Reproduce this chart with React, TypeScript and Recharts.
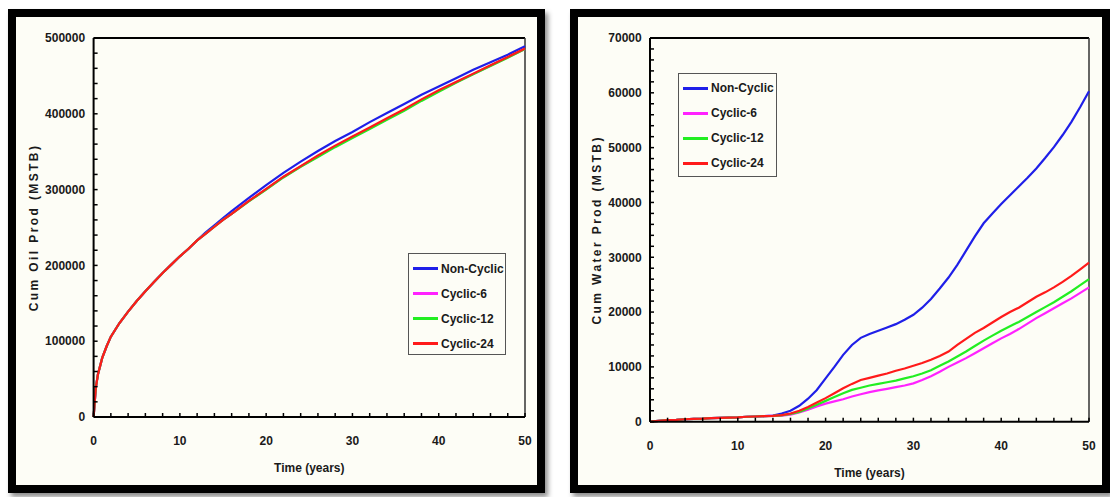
import React from 'react';
import { LineChart, Line, XAxis, YAxis, Legend, ReferenceLine } from 'recharts';

// ---------- Data: Cumulative oil production ----------
const oilTime = [0, 0.25, 0.5, 1, 1.5, 2, 3, 4, 5, 6, 7, 8, 9, 10, 11, 12, 13, 14, 15, 16, 18, 20, 22, 24, 26, 28, 30, 32, 34, 36, 38, 40, 42, 44, 46, 48, 50];
const oilNonCyclic = [0, 38000, 56000, 78000, 93000, 106000, 124000, 139000, 153000, 166000, 178000, 190000, 201000, 212000, 222000, 233000, 243500, 253000, 262500, 271500, 289000, 306000, 322000, 337000, 351000, 364000, 376000, 389000, 401000, 413000, 425000, 436000, 447000, 458000, 468000, 478000, 489000];
const oilCyclic6 = [0, 38000, 56000, 78000, 93000, 106000, 124000, 139000, 153000, 166000, 178000, 190000, 201000, 212000, 222000, 233000, 242000, 251000, 260000, 268000, 285000, 300500, 316500, 330500, 344000, 357000, 369000, 381000, 393000, 405000, 418000, 430000, 441500, 452500, 463500, 474500, 485500];
const oilCyclic12 = [0, 38000, 56000, 78000, 93000, 106000, 124000, 139000, 153000, 166000, 178000, 190000, 201000, 212000, 222000, 233000, 242000, 251000, 260000, 268000, 284500, 300000, 316000, 330000, 343000, 356000, 368000, 380000, 392000, 404000, 417000, 429000, 441000, 452000, 463000, 474000, 485500];
const oilCyclic24 = [0, 38000, 56000, 78000, 93000, 106000, 124000, 139000, 153000, 166000, 178000, 190000, 201000, 212000, 222000, 233000, 242000, 251000, 260000, 268000, 285000, 301000, 317000, 331000, 345000, 358000, 370000, 382000, 394000, 406000, 419000, 431000, 442000, 453000, 464000, 475000, 486000];

// ---------- Data: Cumulative water production ----------
const waterTime = [0, 1, 2, 3, 4, 5, 6, 7, 8, 9, 10, 11, 12, 13, 14, 15, 16, 17, 18, 19, 20, 21, 22, 23, 24, 25, 26, 27, 28, 29, 30, 31, 32, 33, 34, 35, 36, 37, 38, 39, 40, 41, 42, 43, 44, 45, 46, 47, 48, 49, 50];
const waterNonCyclic = [0, 150, 300, 350, 450, 500, 550, 650, 700, 750, 800, 900, 950, 1000, 1100, 1500, 2000, 2900, 4200, 5800, 7900, 10000, 12200, 14000, 15300, 16000, 16600, 17200, 17800, 18600, 19500, 20800, 22400, 24300, 26300, 28600, 31200, 33800, 36200, 38000, 39700, 41300, 42900, 44500, 46200, 48100, 50100, 52300, 54700, 57400, 60300];
const waterCyclic6 = [0, 150, 300, 350, 450, 500, 550, 650, 700, 750, 800, 900, 950, 1000, 1050, 1100, 1300, 1700, 2200, 2800, 3300, 3700, 4100, 4600, 5000, 5400, 5700, 6000, 6300, 6600, 7000, 7600, 8300, 9100, 10000, 10800, 11600, 12500, 13400, 14300, 15200, 16000, 16900, 17900, 18900, 19800, 20700, 21600, 22500, 23500, 24500];
const waterCyclic12 = [0, 150, 300, 350, 450, 500, 550, 650, 700, 750, 800, 900, 950, 1000, 1050, 1150, 1400, 1800, 2400, 3100, 3800, 4500, 5200, 5800, 6200, 6600, 6900, 7200, 7500, 7900, 8300, 8800, 9400, 10200, 11000, 11900, 12800, 13800, 14800, 15700, 16600, 17400, 18200, 19100, 20000, 20900, 21800, 22800, 23800, 24900, 26000];
const waterCyclic24 = [0, 150, 300, 350, 450, 500, 550, 650, 700, 750, 800, 900, 950, 1000, 1050, 1200, 1500, 2000, 2700, 3500, 4300, 5200, 6100, 6900, 7600, 8000, 8400, 8800, 9300, 9700, 10200, 10700, 11300, 12000, 12800, 14000, 15100, 16200, 17100, 18100, 19100, 20000, 20800, 21800, 22800, 23600, 24500, 25500, 26600, 27800, 29000];

// ---------- Tick values ----------
const timeTicks = [0, 2, 4, 6, 8, 10, 12, 14, 16, 18, 20, 22, 24, 26, 28, 30, 32, 34, 36, 38, 40, 42, 44, 46, 48, 50];
const oilTicks = [0, 20000, 40000, 60000, 80000, 100000, 120000, 140000, 160000, 180000, 200000, 220000, 240000, 260000, 280000, 300000, 320000, 340000, 360000, 380000, 400000, 420000, 440000, 460000, 480000, 500000];
const waterTicks = [0, 2000, 4000, 6000, 8000, 10000, 12000, 14000, 16000, 18000, 20000, 22000, 24000, 26000, 28000, 30000, 32000, 34000, 36000, 38000, 40000, 42000, 44000, 46000, 48000, 50000, 52000, 54000, 56000, 58000, 60000, 62000, 64000, 66000, 68000, 70000];

const seriesNames = ['Non-Cyclic', 'Cyclic-6', 'Cyclic-12', 'Cyclic-24'];
const seriesColors = ['#1f1fe8', '#ff22ff', '#22ee22', '#ff1a1a'];

const oilRows = oilTime.map((t, i) => ({
  t,
  nc: oilNonCyclic[i],
  c6: oilCyclic6[i],
  c12: oilCyclic12[i],
  c24: oilCyclic24[i],
}));
const waterRows = waterTime.map((t, i) => ({
  t,
  nc: waterNonCyclic[i],
  c6: waterCyclic6[i],
  c12: waterCyclic12[i],
  c24: waterCyclic24[i],
}));

const FONT = '"Liberation Sans", Arial, Helvetica, sans-serif';
const CREAM = '#fdfdf6';
const tickStyle = { fontFamily: FONT, fontSize: 12, fontWeight: 700, fill: '#1a1a1a' };

const LegendBox = (props: any) => {
  const payload = [...(props.payload || [])].sort(
    (a: any, b: any) => seriesNames.indexOf(a.value) - seriesNames.indexOf(b.value)
  );
  return (
    <div
      style={{
        border: '1.5px solid #555',
        background: CREAM,
        boxSizing: 'border-box',
        width: '100%',
        height: '100%',
        padding: '2px 0 0 4px',
        fontFamily: FONT,
        fontWeight: 700,
        fontSize: 12,
        color: '#1a1a1a',
      }}
    >
      {payload.map((p: any) => (
        <div key={p.value} style={{ display: 'flex', alignItems: 'center', height: 25 }}>
          <span style={{ display: 'inline-block', width: 25, height: 3, background: p.color, marginRight: 3 }} />
          <span>{p.value}</span>
        </div>
      ))}
    </div>
  );
};

const yTitle = (text: string, dxFromViewBox: number) => (props: any) => {
  const vb = props.viewBox || { x: 0, y: 0, width: 0, height: 0 };
  const cx = vb.x + dxFromViewBox;
  const cy = vb.y + vb.height / 2;
  return (
    <text
      x={cx}
      y={cy}
      transform={`rotate(-90 ${cx} ${cy})`}
      textAnchor="middle"
      dominantBaseline="central"
      style={{ fontFamily: FONT, fontSize: 12, fontWeight: 700, fill: '#1a1a1a', letterSpacing: 2.4 }}
    >
      {text}
    </text>
  );
};

const xTitle = (text: string, dy: number) => (props: any) => {
  const vb = props.viewBox || { x: 0, y: 0, width: 0, height: 0 };
  const cx = vb.x + vb.width / 2;
  const cy = vb.y + dy;
  return (
    <text
      x={cx}
      y={cy}
      textAnchor="middle"
      dominantBaseline="central"
      style={{ fontFamily: FONT, fontSize: 12, fontWeight: 700, fill: '#1a1a1a' }}
    >
      {text}
    </text>
  );
};

const panelStyle = (left: number, width: number): React.CSSProperties => ({
  position: 'absolute',
  left,
  top: 9,
  width,
  height: 484,
  boxSizing: 'border-box',
  border: '8px solid #000',
  background: CREAM,
  boxShadow: '3px 4px 5px rgba(0,0,0,0.45)',
});

const renderLines = () =>
  ['nc', 'c6', 'c12', 'c24'].map((k, i) => (
    <Line
      key={k}
      type="linear"
      dataKey={k}
      name={seriesNames[i]}
      stroke={seriesColors[i]}
      strokeWidth={2.2}
      dot={false}
      activeDot={false}
      isAnimationActive={false}
    />
  ));

export default function App() {
  return (
    <div style={{ position: 'absolute', left: 0, top: 0, width: 1110, height: 497, background: '#fff', overflow: 'hidden' }}>
      {/* Left panel: Cum Oil */}
      <div style={panelStyle(8, 537)}>
        <LineChart width={521} height={468} data={oilRows} margin={{ top: 21, right: 12, left: 17.6, bottom: 38 }}>
          <XAxis
            dataKey="t"
            type="number"
            domain={[0, 50]}
            ticks={timeTicks}
            interval={0}
            tickFormatter={(v: number) => (v % 10 === 0 ? String(v) : '')}
            tick={tickStyle}
            tickSize={-4}
            tickMargin={23.5}
            axisLine={{ stroke: '#000', strokeWidth: 2 }}
            tickLine={{ stroke: '#000', strokeWidth: 1.5 }}
            height={30}
            label={{ content: xTitle('Time (years)', 51.3) }}
          />
          <YAxis
            type="number"
            domain={[0, 500000]}
            ticks={oilTicks}
            interval={0}
            tickFormatter={(v: number) => (v % 100000 === 0 ? String(v) : '')}
            tick={tickStyle}
            tickSize={-4}
            tickMargin={12.5}
            axisLine={{ stroke: '#000', strokeWidth: 2 }}
            tickLine={{ stroke: '#000', strokeWidth: 1.5 }}
            width={60}
            label={{ content: yTitle('Cum Oil Prod (MSTB)', 0.4) }}
          />
          <ReferenceLine y={500000} stroke="#000" strokeWidth={2} ifOverflow="visible" />
          <ReferenceLine x={50} stroke="#333" strokeWidth={1.5} ifOverflow="visible" />
          {renderLines()}
          <Legend
            layout="vertical"
            align="center"
            verticalAlign="middle"
            content={LegendBox}
            wrapperStyle={{ position: 'absolute', left: 392, top: 236, width: 98, height: 102 }}
          />
        </LineChart>
      </div>

      {/* Right panel: Cum Water */}
      <div style={panelStyle(570, 540)}>
        <LineChart width={524} height={468} data={waterRows} margin={{ top: 21, right: 13, left: 12, bottom: 33.3 }}>
          <XAxis
            dataKey="t"
            type="number"
            domain={[0, 50]}
            ticks={timeTicks}
            interval={0}
            tickFormatter={(v: number) => (v % 10 === 0 ? String(v) : '')}
            tick={tickStyle}
            tickSize={-4}
            tickMargin={24}
            axisLine={{ stroke: '#000', strokeWidth: 2 }}
            tickLine={{ stroke: '#000', strokeWidth: 1.5 }}
            height={30}
            label={{ content: xTitle('Time (years)', 51.6) }}
          />
          <YAxis
            type="number"
            domain={[0, 70000]}
            ticks={waterTicks}
            interval={0}
            tickFormatter={(v: number) => (v % 10000 === 0 ? String(v) : '')}
            tick={tickStyle}
            tickSize={-4}
            tickMargin={12.3}
            axisLine={{ stroke: '#000', strokeWidth: 2 }}
            tickLine={{ stroke: '#000', strokeWidth: 1.5 }}
            width={60}
            label={{ content: yTitle('Cum Water Prod (MSTB)', 7.5) }}
          />
          <ReferenceLine y={70000} stroke="#000" strokeWidth={2} ifOverflow="visible" />
          <ReferenceLine x={50} stroke="#333" strokeWidth={1.5} ifOverflow="visible" />
          {renderLines()}
          <Legend
            layout="vertical"
            align="center"
            verticalAlign="middle"
            content={LegendBox}
            wrapperStyle={{ position: 'absolute', left: 100, top: 55.7, width: 99, height: 104 }}
          />
        </LineChart>
      </div>
    </div>
  );
}
